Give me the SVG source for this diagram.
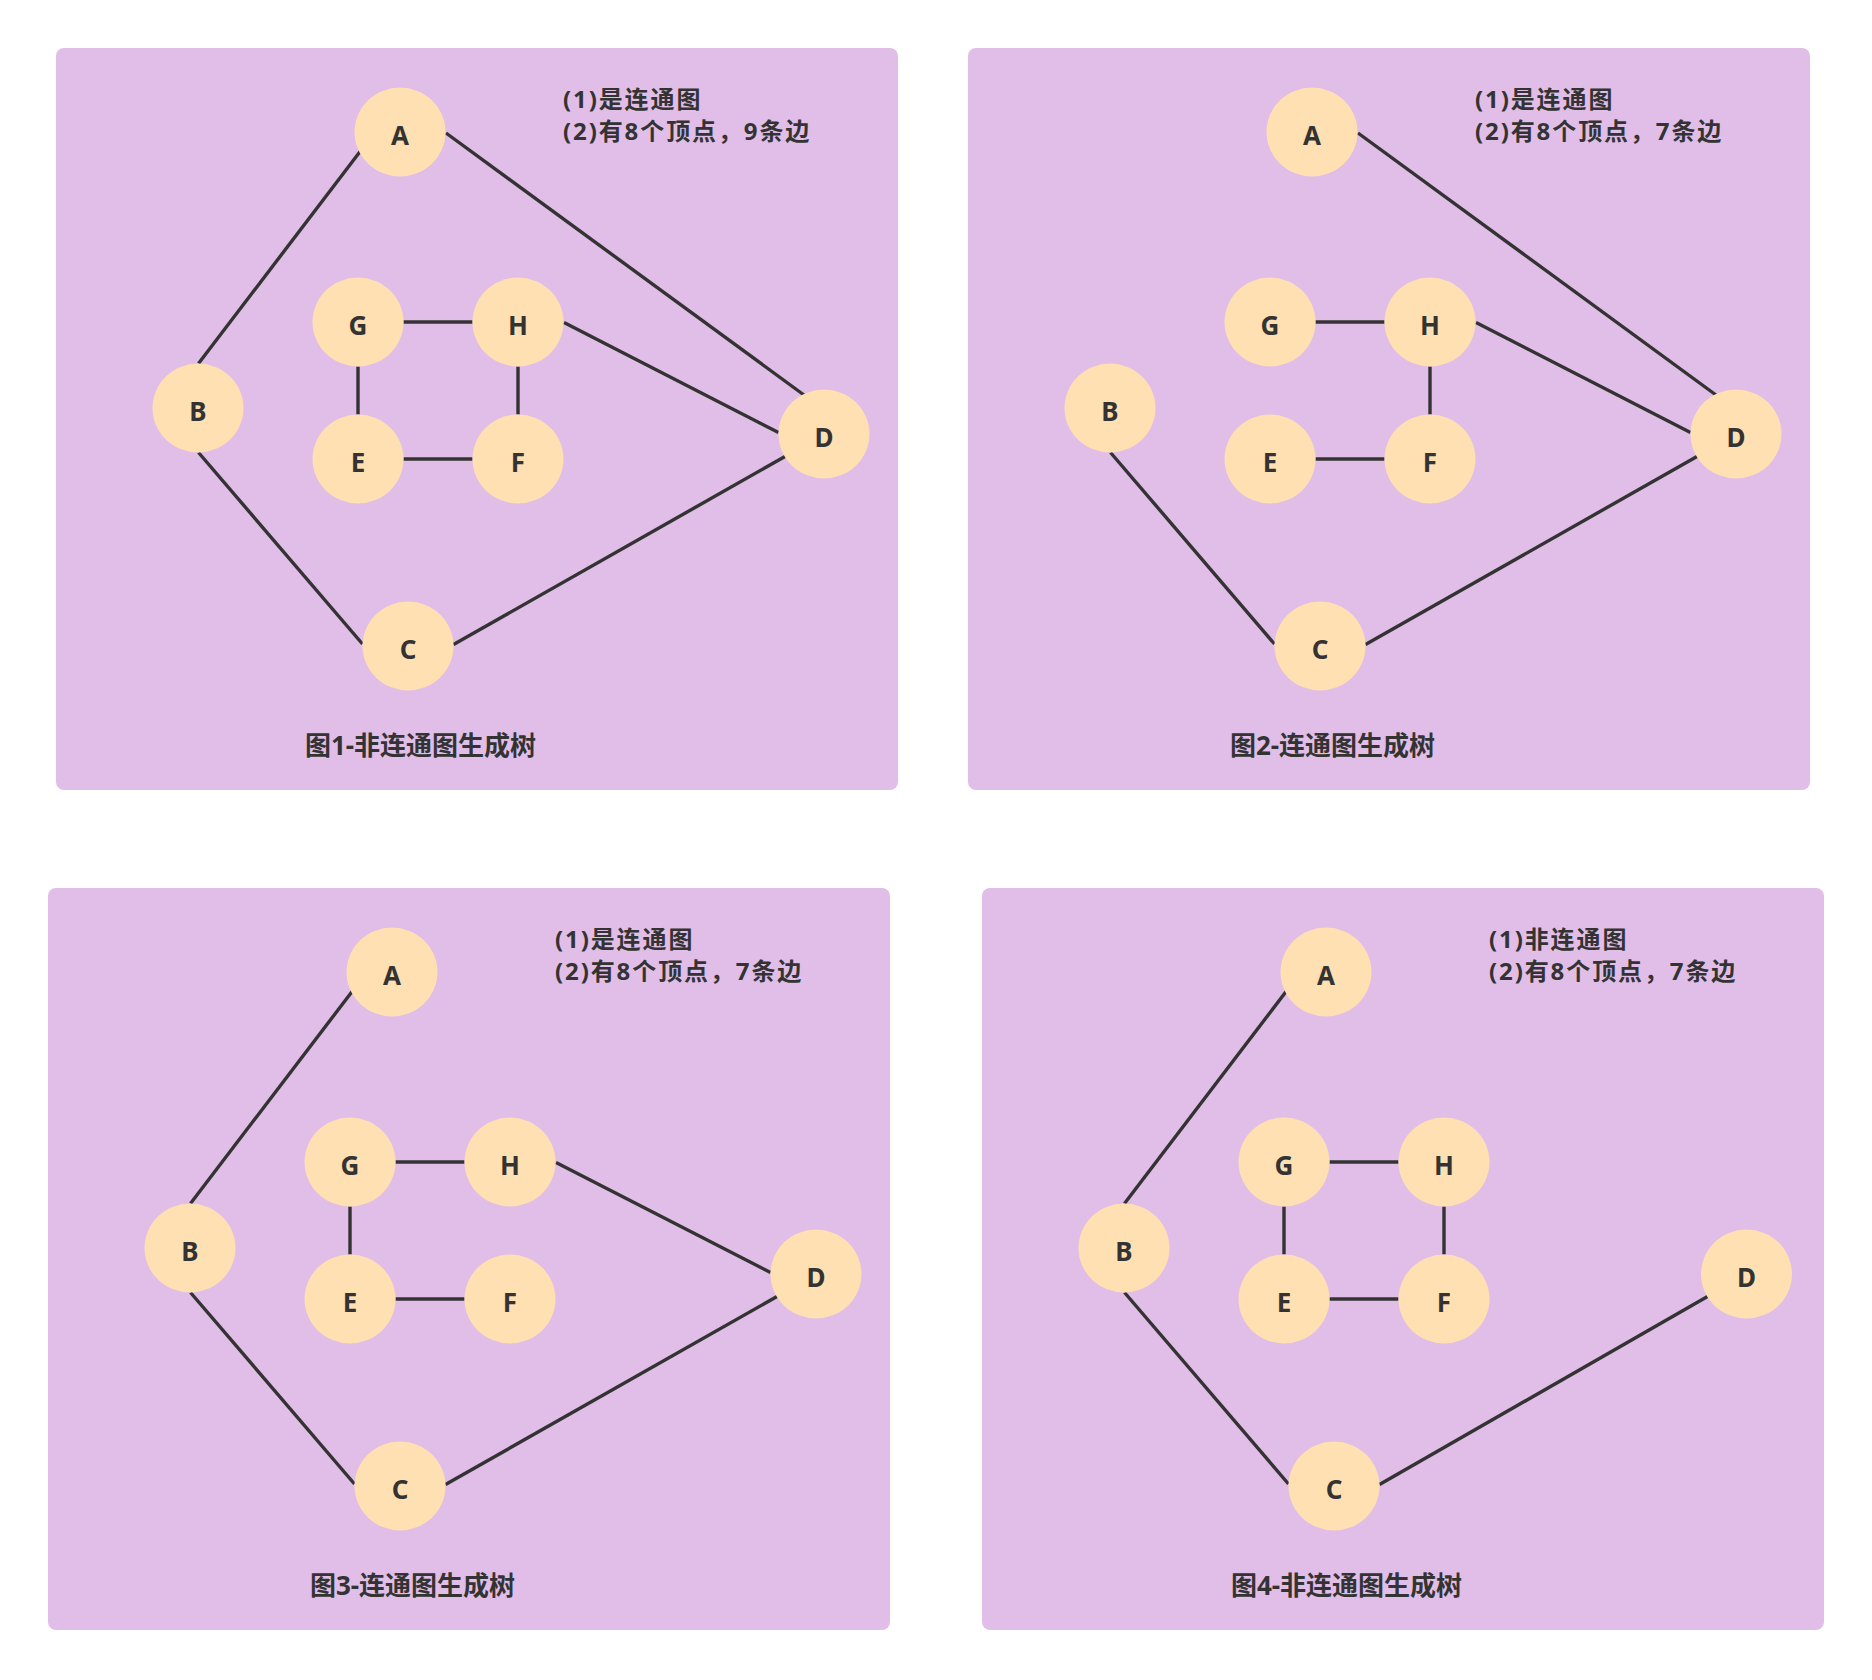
<svg xmlns="http://www.w3.org/2000/svg" width="1872" height="1680" viewBox="0 0 1872 1680">
<style>
.panel{fill:#E1BEE7}
.node ellipse{fill:#FFE0B2}
.node text{font-family:"Noto Sans","Noto Sans CJK SC",sans-serif;font-weight:bold;font-size:26px;fill:#333333;text-anchor:middle}
.edges line{stroke:#333333;stroke-width:3.4;fill:none}
.info{font-family:"Noto Sans","Noto Sans CJK SC",sans-serif;font-weight:bold;font-size:24px;fill:#333333;letter-spacing:1.9px}
.cap{font-family:"Noto Sans","Noto Sans CJK SC",sans-serif;font-weight:bold;font-size:26px;fill:#333333;text-anchor:middle}
</style>
<rect width="1872" height="1680" fill="#FFFFFF"/>

<!-- Panel 1 -->
<g id="panel1">
<rect class="panel" x="56" y="48" width="842" height="742" rx="8"/>
<g id="p1-edges" class="edges">
<line x1="362" y1="149" x2="198.5" y2="363.5"/>
<line x1="446" y1="133" x2="804" y2="395"/>
<line x1="403.5" y1="322" x2="472.5" y2="322"/>
<line x1="358" y1="366.5" x2="358" y2="414.5"/>
<line x1="518" y1="366.5" x2="518" y2="414.5"/>
<line x1="403.5" y1="459" x2="472.5" y2="459"/>
<line x1="564" y1="322.5" x2="778.5" y2="432.5"/>
<line x1="198.5" y1="452.5" x2="362.5" y2="644"/>
<line x1="453.5" y1="644.5" x2="785" y2="456.5"/>
</g>
<g id="p1-A" class="node"><ellipse cx="400" cy="132" rx="45.5" ry="44.5"/><text x="400" y="145">A</text></g>
<g id="p1-B" class="node"><ellipse cx="198" cy="408" rx="45.5" ry="44.5"/><text x="198" y="421">B</text></g>
<g id="p1-C" class="node"><ellipse cx="408" cy="646" rx="45.5" ry="44.5"/><text x="408" y="659">C</text></g>
<g id="p1-D" class="node"><ellipse cx="824" cy="434" rx="45.5" ry="44.5"/><text x="824" y="447">D</text></g>
<g id="p1-G" class="node"><ellipse cx="358" cy="322" rx="45.5" ry="44.5"/><text x="358" y="335">G</text></g>
<g id="p1-H" class="node"><ellipse cx="518" cy="322" rx="45.5" ry="44.5"/><text x="518" y="335">H</text></g>
<g id="p1-E" class="node"><ellipse cx="358" cy="459" rx="45.5" ry="44.5"/><text x="358" y="472">E</text></g>
<g id="p1-F" class="node"><ellipse cx="518" cy="459" rx="45.5" ry="44.5"/><text x="518" y="472">F</text></g>
<text class="info" x="563" y="107.5">(1)是连通图</text>
<text class="info" x="563" y="139.5">(2)有8个顶点，9条边</text>
<text class="cap" x="420.5" y="754.5">图1-非连通图生成树</text>
</g>

<!-- Panel 2 -->
<g id="panel2" transform="translate(912,0)">
<rect class="panel" x="56" y="48" width="842" height="742" rx="8"/>
<g id="p2-edges" class="edges">
<line x1="446" y1="133" x2="804" y2="395"/>
<line x1="403.5" y1="322" x2="472.5" y2="322"/>
<line x1="518" y1="366.5" x2="518" y2="414.5"/>
<line x1="403.5" y1="459" x2="472.5" y2="459"/>
<line x1="564" y1="322.5" x2="778.5" y2="432.5"/>
<line x1="198.5" y1="452.5" x2="362.5" y2="644"/>
<line x1="453.5" y1="644.5" x2="785" y2="456.5"/>
</g>
<g id="p2-A" class="node"><ellipse cx="400" cy="132" rx="45.5" ry="44.5"/><text x="400" y="145">A</text></g>
<g id="p2-B" class="node"><ellipse cx="198" cy="408" rx="45.5" ry="44.5"/><text x="198" y="421">B</text></g>
<g id="p2-C" class="node"><ellipse cx="408" cy="646" rx="45.5" ry="44.5"/><text x="408" y="659">C</text></g>
<g id="p2-D" class="node"><ellipse cx="824" cy="434" rx="45.5" ry="44.5"/><text x="824" y="447">D</text></g>
<g id="p2-G" class="node"><ellipse cx="358" cy="322" rx="45.5" ry="44.5"/><text x="358" y="335">G</text></g>
<g id="p2-H" class="node"><ellipse cx="518" cy="322" rx="45.5" ry="44.5"/><text x="518" y="335">H</text></g>
<g id="p2-E" class="node"><ellipse cx="358" cy="459" rx="45.5" ry="44.5"/><text x="358" y="472">E</text></g>
<g id="p2-F" class="node"><ellipse cx="518" cy="459" rx="45.5" ry="44.5"/><text x="518" y="472">F</text></g>
<text class="info" x="563" y="107.5">(1)是连通图</text>
<text class="info" x="563" y="139.5">(2)有8个顶点，7条边</text>
<text class="cap" x="420.5" y="754.5">图2-连通图生成树</text>
</g>

<!-- Panel 3 -->
<g id="panel3" transform="translate(-8,840)">
<rect class="panel" x="56" y="48" width="842" height="742" rx="8"/>
<g id="p3-edges" class="edges">
<line x1="362" y1="149" x2="198.5" y2="363.5"/>
<line x1="403.5" y1="322" x2="472.5" y2="322"/>
<line x1="358" y1="366.5" x2="358" y2="414.5"/>
<line x1="403.5" y1="459" x2="472.5" y2="459"/>
<line x1="564" y1="322.5" x2="778.5" y2="432.5"/>
<line x1="198.5" y1="452.5" x2="362.5" y2="644"/>
<line x1="453.5" y1="644.5" x2="785" y2="456.5"/>
</g>
<g id="p3-A" class="node"><ellipse cx="400" cy="132" rx="45.5" ry="44.5"/><text x="400" y="145">A</text></g>
<g id="p3-B" class="node"><ellipse cx="198" cy="408" rx="45.5" ry="44.5"/><text x="198" y="421">B</text></g>
<g id="p3-C" class="node"><ellipse cx="408" cy="646" rx="45.5" ry="44.5"/><text x="408" y="659">C</text></g>
<g id="p3-D" class="node"><ellipse cx="824" cy="434" rx="45.5" ry="44.5"/><text x="824" y="447">D</text></g>
<g id="p3-G" class="node"><ellipse cx="358" cy="322" rx="45.5" ry="44.5"/><text x="358" y="335">G</text></g>
<g id="p3-H" class="node"><ellipse cx="518" cy="322" rx="45.5" ry="44.5"/><text x="518" y="335">H</text></g>
<g id="p3-E" class="node"><ellipse cx="358" cy="459" rx="45.5" ry="44.5"/><text x="358" y="472">E</text></g>
<g id="p3-F" class="node"><ellipse cx="518" cy="459" rx="45.5" ry="44.5"/><text x="518" y="472">F</text></g>
<text class="info" x="563" y="107.5">(1)是连通图</text>
<text class="info" x="563" y="139.5">(2)有8个顶点，7条边</text>
<text class="cap" x="420.5" y="754.5">图3-连通图生成树</text>
</g>

<!-- Panel 4 -->
<g id="panel4" transform="translate(926,840)">
<rect class="panel" x="56" y="48" width="842" height="742" rx="8"/>
<g id="p4-edges" class="edges">
<line x1="362" y1="149" x2="198.5" y2="363.5"/>
<line x1="403.5" y1="322" x2="472.5" y2="322"/>
<line x1="358" y1="366.5" x2="358" y2="414.5"/>
<line x1="518" y1="366.5" x2="518" y2="414.5"/>
<line x1="403.5" y1="459" x2="472.5" y2="459"/>
<line x1="198.5" y1="452.5" x2="362.5" y2="644"/>
<line x1="453.5" y1="644.5" x2="781.5" y2="456.5"/>
</g>
<g id="p4-A" class="node"><ellipse cx="400" cy="132" rx="45.5" ry="44.5"/><text x="400" y="145">A</text></g>
<g id="p4-B" class="node"><ellipse cx="198" cy="408" rx="45.5" ry="44.5"/><text x="198" y="421">B</text></g>
<g id="p4-C" class="node"><ellipse cx="408" cy="646" rx="45.5" ry="44.5"/><text x="408" y="659">C</text></g>
<g id="p4-D" class="node"><ellipse cx="820.5" cy="434" rx="45.5" ry="44.5"/><text x="820.5" y="447">D</text></g>
<g id="p4-G" class="node"><ellipse cx="358" cy="322" rx="45.5" ry="44.5"/><text x="358" y="335">G</text></g>
<g id="p4-H" class="node"><ellipse cx="518" cy="322" rx="45.5" ry="44.5"/><text x="518" y="335">H</text></g>
<g id="p4-E" class="node"><ellipse cx="358" cy="459" rx="45.5" ry="44.5"/><text x="358" y="472">E</text></g>
<g id="p4-F" class="node"><ellipse cx="518" cy="459" rx="45.5" ry="44.5"/><text x="518" y="472">F</text></g>
<text class="info" x="563" y="107.5">(1)非连通图</text>
<text class="info" x="563" y="139.5">(2)有8个顶点，7条边</text>
<text class="cap" x="420.5" y="754.5">图4-非连通图生成树</text>
</g>
</svg>
